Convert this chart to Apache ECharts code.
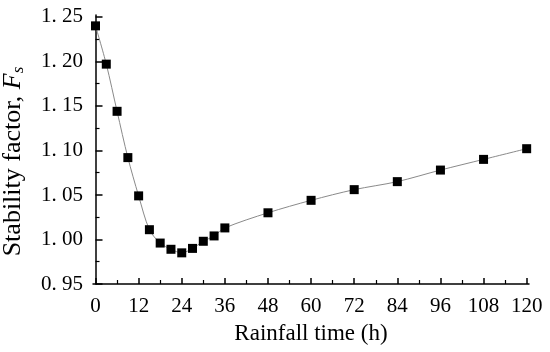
<!DOCTYPE html>
<html>
<head>
<meta charset="utf-8">
<script src="https://cdn.jsdelivr.net/npm/echarts@6/dist/echarts.min.js"></script>
<style>html,body{margin:0;padding:0;background:#fff}#c{width:550px;height:352px}</style>
</head>
<body>
<div id="c"></div>
<script>
const timeH = [0, 3, 6, 9, 12, 15, 18, 21, 24, 27, 30, 33, 36, 48, 60, 72, 84, 96, 108, 120];
const stability = [1.240, 1.197, 1.144, 1.092, 1.049, 1.011, 0.996, 0.989, 0.985, 0.990, 0.998, 1.004, 1.013, 1.030, 1.044, 1.056, 1.065, 1.078, 1.090, 1.102];
const xTicks = [0, 12, 24, 36, 48, 60, 72, 84, 96, 108, 120];
const xMinorTicks = [6, 18, 30, 42, 54, 66, 78, 90, 102, 114];
const yTicks = [0.95, 1.00, 1.05, 1.10, 1.15, 1.20, 1.25];
const yMinorTicks = [0.975, 1.025, 1.075, 1.125, 1.175, 1.225];

const FONT = '"Liberation Serif", "Times New Roman", serif';
const X_MIN = -0.7, X_MAX = 120.65, Y_MIN = 0.95, Y_MAX = 1.2522;
const axisLine = { show: true, lineStyle: { color: '#000', width: 1.5 } };

const chart = echarts.init(document.getElementById('c'), null, { renderer: 'canvas' });
chart.setOption({
  animation: false,
  backgroundColor: '#fff',
  grid: { left: 93, right: 21, top: 15, bottom: 68, containLabel: false, outerBoundsMode: 'none' },
  xAxis: [
    {
      type: 'value', min: X_MIN, max: X_MAX,
      axisLine: axisLine,
      axisTick: { show: true, inside: true, length: 6, customValues: xTicks, lineStyle: { color: '#000', width: 1.5 } },
      axisLabel: { show: true, customValues: xTicks, margin: 12, color: '#000', fontFamily: FONT, fontSize: 21 },
      splitLine: { show: false },
      name: 'Rainfall time (h)', nameLocation: 'middle', nameGap: 38,
      nameTextStyle: { color: '#000', fontFamily: FONT, fontSize: 23 }
    },
    {
      type: 'value', min: X_MIN, max: X_MAX, position: 'bottom',
      axisLine: { show: false },
      axisTick: { show: true, inside: true, length: 4, customValues: xMinorTicks, lineStyle: { color: '#000', width: 1.2 } },
      axisLabel: { show: false },
      splitLine: { show: false }
    }
  ],
  yAxis: [
    {
      type: 'value', min: Y_MIN, max: Y_MAX,
      axisLine: axisLine,
      axisTick: { show: true, inside: true, length: 7, customValues: yTicks, lineStyle: { color: '#000', width: 1.5 } },
      axisLabel: {
        show: true, customValues: yTicks, margin: 10, color: '#000', fontFamily: FONT, fontSize: 21,
        formatter: v => v.toFixed(2).replace('.', '. ')
      },
      splitLine: { show: false },
      name: '{n|Stability factor, }{f|F}{s|s}', nameLocation: 'middle', nameGap: 66,
      nameTextStyle: {
        color: '#000', fontFamily: FONT, fontSize: 26, padding: [0, 24, 0, 0],
        rich: {
          n: { fontFamily: FONT, fontSize: 26, color: '#000' },
          f: { fontFamily: FONT, fontSize: 26, fontStyle: 'italic', color: '#000' },
          s: { fontFamily: FONT, fontSize: 17, fontStyle: 'italic', color: '#000', padding: [10, 0, 0, 0] }
        }
      }
    },
    {
      type: 'value', min: Y_MIN, max: Y_MAX, position: 'left',
      axisLine: { show: false },
      axisTick: { show: true, inside: true, length: 4, customValues: yMinorTicks, lineStyle: { color: '#000', width: 1.2 } },
      axisLabel: { show: false },
      splitLine: { show: false }
    }
  ],
  series: [{
    type: 'line',
    xAxisIndex: 0, yAxisIndex: 0,
    data: timeH.map((t, i) => [t, stability[i]]),
    smooth: 0.3,
    symbol: 'rect', symbolSize: 9,
    itemStyle: { color: '#000' },
    lineStyle: { color: '#8a8a8a', width: 1 }
  }]
});
</script>
</body>
</html>
